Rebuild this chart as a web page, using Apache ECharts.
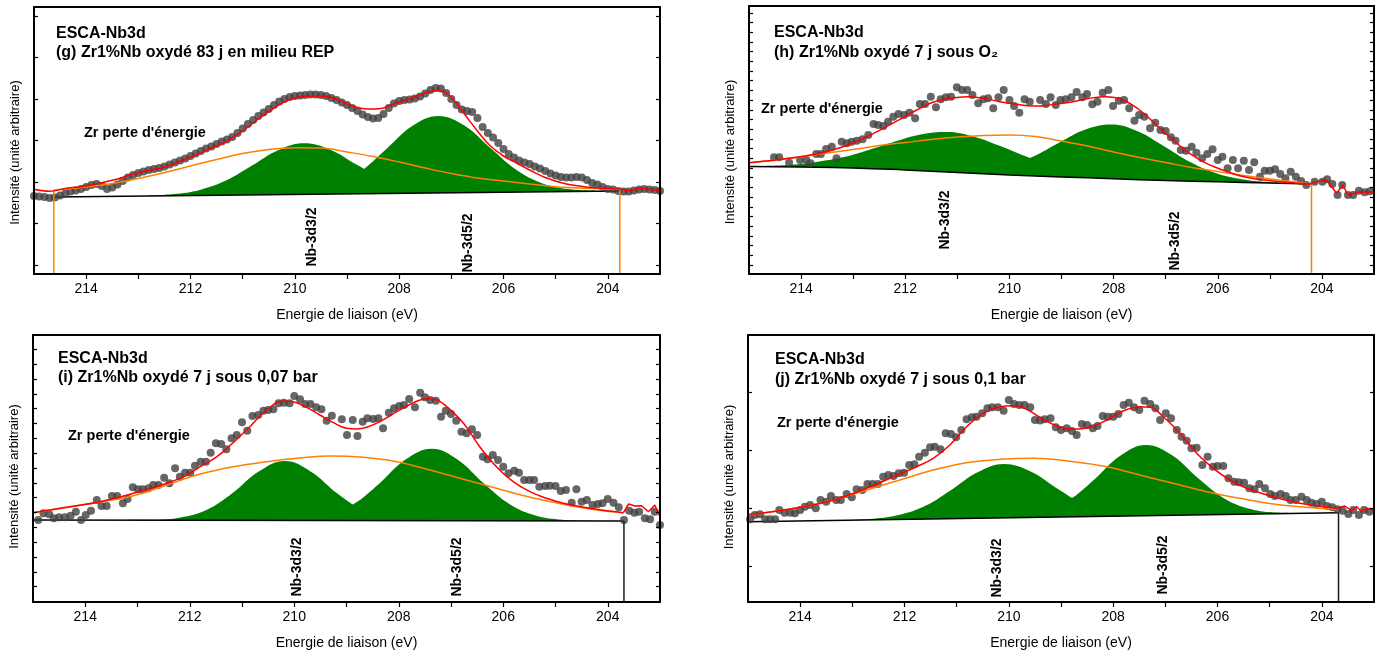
<!DOCTYPE html>
<html>
<head>
<meta charset="utf-8">
<script src="https://cdn.jsdelivr.net/npm/echarts@6/dist/echarts.min.js"></script>
<style>
  html, body { margin: 0; background: #fff; }
  #chart { width: 1383px; height: 657px; }
</style>
</head>
<body>
<div id="chart"></div>
<script>
// binding energy (eV), intensity in arbitrary units (0 = bottom of each frame)

// ---- (g) 83 j en milieu REP ----
const gPoints = [
  [215.0,78],[214.9,77.5],[214.8,77],[214.7,76],[214.6,76.5],[214.5,78.5],[214.4,80.5],[214.3,82.5],[214.2,83.5],[214.1,85],
  [214.0,87],[213.9,89],[213.8,90],[213.7,88],[213.6,85],[213.5,86.5],[213.4,89.5],[213.3,93],[213.2,96.5],[213.1,99],
  [213.0,101],[212.9,102.5],[212.8,104],[212.7,105],[212.6,106],[212.5,107.5],[212.4,109.5],[212.3,111.5],[212.2,113.5],[212.1,115.5],
  [212.0,118],[211.9,120.5],[211.8,123],[211.7,125.5],[211.6,127.5],[211.5,130],[211.4,132.5],[211.3,134.5],[211.2,137],[211.1,141],
  [211.0,145.5],[210.9,150],[210.8,154],[210.7,158],[210.6,161.5],[210.5,165],[210.4,169],[210.3,172.5],[210.2,175],[210.1,177],
  [210.0,178],[209.9,178.5],[209.8,179],[209.7,179.5],[209.6,179.5],[209.5,179],[209.4,178],[209.3,176],[209.2,174],[209.1,171.5],
  [209.0,169],[208.9,166],[208.8,163],[208.7,159.5],[208.6,157],[208.5,155.5],[208.4,156],[208.3,160],[208.2,166],[208.1,170.5],
  [208.0,173],[207.9,174],[207.8,174.5],[207.7,175.5],[207.6,177.5],[207.5,180.5],[207.4,184],[207.3,186],[207.2,185.5],[207.1,181],
  [207.0,175],[206.9,169],[206.8,164.5],[206.7,163],[206.6,162],[206.5,156],[206.4,147],[206.3,141],[206.2,136.5],[206.1,131],
  [206.0,125],[205.9,120],[205.8,116.5],[205.7,113.5],[205.6,111.5],[205.5,110],[205.4,107.5],[205.3,105.5],[205.2,103],[205.1,100.5],
  [205.0,98.5],[204.9,97],[204.8,96.5],[204.7,96.5],[204.6,97],[204.5,96.5],[204.4,94],[204.3,91],[204.2,89.5],[204.1,87],
  [204.0,85],[203.9,84.5],[203.8,83],[203.7,82.5],[203.6,82.5],[203.5,83.5],[203.4,84.5],[203.3,85],[203.2,84.5],[203.1,84],[203.0,83]
];
const gFit = [
  [215,84.7],[214.7,82.7],[214.4,85.5],[214,88],[213.7,91.3],[213.4,95],[213.1,100],[212.8,103.5],[212.5,107],[212.2,112.5],
  [211.9,119],[211.6,126],[211.3,133],[211.0,143],[210.7,155],[210.4,166],[210.1,174.5],[209.8,177.8],[209.5,178],[209.2,175],
  [208.9,168],[208.6,165],[208.35,165.5],[208.1,170],[207.8,175],[207.5,181],[207.25,183.5],[207.0,176.5],[206.75,160],[206.5,143],
  [206.25,128],[206,118],[205.75,111],[205.5,104],[205.2,96.5],[204.85,90.7],[204.46,87.3],[204.08,85.7],[203.8,85]
];
const gFitTail = [[203.8,85],[203.58,83.3],[203.39,85.7],[203.2,84.7],[203.0,83]];
const gLoss = [
  [214.62,84],[214,87],[213.5,90.5],[213,95.5],[212.5,101.5],[212,108],[211.5,114.5],[211,120.5],[210.5,124.5],[210,126.3],
  [209.5,126],[209,122],[208.5,117.5],[208,112],[207.5,106],[207,100.5],[206.5,96],[206,93],[205.5,90],[205,87.3],
  [204.5,85.8],[204,85],[203.77,84.7]
];
const gNb32 = [
  [212.82,78.3],[212.32,79.9],[211.82,84.1],[211.32,93.4],[210.82,108.4],[210.32,123.8],[209.82,130.7],
  [209.32,124.3],[208.82,109.5],[208.32,95.1],[207.82,86.4],[207.32,82.6],[206.82,81.7]
];
const gNb52 = [
  [210.25,79.9],[209.75,82.1],[209.25,88.4],[208.75,102.3],[208.25,124.8],[207.75,147.9],[207.25,158.1],
  [206.75,148.5],[206.25,125.9],[205.75,104],[205.25,90.6],[204.75,84.9],[204.25,83.3]
];
const gBase = [[214.62,77],[203.77,83]];
const gEdges = [[[214.62,0],[214.62,84]], [[203.77,0],[203.77,84.7]]];
const gTicks = [9, 50.5, 92, 133.5, 175, 216.5, 258];

// ---- (h) 7 j sous O2 ----
const hPoints = [
  [214.52,116.7],[214.42,116.7],[214.23,111.3],[214.02,114],[213.9,114],[213.82,110.7],[213.71,120],[213.62,120],[213.52,125],[213.41,127.3],
  [213.32,115.7],[213.22,132.3],[213.12,130.7],[213.03,132.3],[212.93,133.3],[212.82,134.7],[212.71,139],[212.61,150],[212.52,149],[212.42,148],
  [212.33,152.3],[212.23,157.3],[212.13,160],[212.02,159],[211.92,161.3],[211.81,155.7],[211.72,170],[211.62,170],[211.51,177.3],[211.41,166.7],
  [211.32,174.7],[211.22,176.7],[211.12,177.3],[211.01,186.7],[210.91,184],[210.81,184],[210.71,179],[210.6,170.7],[210.5,174.7],[210.41,175.7],
  [210.31,165.7],[210.21,176.7],[210.11,184],[210.0,174],[209.91,168],[209.81,161.3],[209.71,174.7],[209.61,172.3],[209.41,174],[209.3,170],
  [209.21,176.7],[209.11,169],[209.02,174],[208.92,174.7],[208.81,176.7],[208.71,182],[208.6,176.7],[208.51,180],[208.41,169.7],[208.31,172.3],
  [208.21,181.3],[208.1,184],[208.01,168],[207.9,173.3],[207.8,174],[207.7,165.7],[207.6,153.3],[207.51,159],[207.41,157.3],[207.3,145.7],
  [207.2,151.3],[207.1,144],[207.0,143],[206.9,136.7],[206.81,133.3],[206.71,124],[206.61,123.3],[206.5,127.3],[206.41,121.3],[206.3,115.7],
  [206.2,120],[206.1,124.7],[206.0,114],[205.91,117.3],[205.81,105.7],[205.71,114],[205.61,105.7],[205.5,113.3],[205.4,104],[205.3,111.7],
  [205.19,97.3],[205.1,103.3],[205.0,103.3],[204.9,104.7],[204.8,100],[204.7,95.7],[204.6,102.3],[204.5,97.3],[204.4,93],[204.3,89],
  [204.14,92.3],[203.99,92.3],[203.9,94.7],[203.8,90],[203.7,79],[203.61,89],[203.5,79],[203.4,79],[203.29,83.3],[203.18,81.7],[203.08,82.7]
];
const hFit = [
  [215,111.3],[214.5,114],[214.02,117.3],[213.7,120],[213.39,124],[213.05,130],[212.74,137.3],[212.42,145.7],[212.1,154.7],[211.78,164],
  [211.47,171.7],[211.14,175.7],[210.82,177.3],[210.5,175.7],[210.18,172.3],[209.86,169.7],[209.55,168],[209.3,168.5],[209.1,170],[208.78,172.3],
  [208.46,175.7],[208.13,177.3],[207.82,174],[207.5,164],[207.18,149],[206.86,134],[206.54,120.7],[206.22,110.7],[205.9,104],[205.58,98.3],
  [205.26,95],[204.94,93],[204.6,91.3],[204.23,90]
];
const hFitTail = [[204.23,90],[204.1,92.3],[203.91,94],[203.72,80.7],[203.6,89],[203.5,79],[203.27,82.3],[203.02,81.7]];
const hLoss = [
  [215,111.3],[214.5,114],[214,117],[213.5,121],[213,124.5],[212.5,128.5],[212,131.5],[211.5,134.5],[211,137],[210.5,138.5],
  [210,139],[209.5,137.5],[209,133],[208.5,128],[208,122],[207.5,116.5],[207,111.5],[206.5,106.5],[206,102.5],[205.5,98.5],
  [205,95],[204.5,92],[204.2,90]
];
const hNb32 = [
  [214.7,108.1],[214.2,109.3],[213.7,112.1],[213.2,116.7],[212.7,124.1],[212.2,132.5],[211.7,139.6],[211.2,142],
  [210.7,137.6],[210.2,128.5],[209.7,117.9],[209.2,108.5],[208.7,101.8],[208.2,97.8],[207.7,95.5]
];
const hNb52 = [
  [211.04,102.5],[210.54,103.5],[210.04,107.9],[209.54,117.5],[209.04,131.4],[208.54,144.4],[208.04,149.4],
  [207.54,142.7],[207.04,127.9],[206.54,112.2],[206.04,101],[205.54,94.8],[205.04,91.9],[204.54,90.7]
];
const hBase = [[215,107.5],[214,107],[213,106],[212,104],[211,101.5],[210,99],[209,97],[208,95.3],[207,93.5],[206,92.2],[205,91],[204.2,90]];
const hEdges = [[[204.2,0],[204.2,90]]];
const hTicks = [9,18.7,28.4,38.1,47.8,57.5,67.2,76.9,86.6,96.3,106,115.7,125.4,135.1,144.8,154.5,164.2,173.9,183.6,193.3,203,212.7,222.4,232.1,241.8,251.5,261.2];

// ---- (i) 7 j sous 0,07 bar ----
const iPoints = [
  [214.9,82],[214.8,88.7],[214.69,87.7],[214.6,83.7],[214.5,84.7],[214.39,84.7],[214.28,86.3],[214.18,90.3],[214.08,82],[213.99,87],
  [213.89,91.3],[213.78,102],[213.69,96],[213.59,96],[213.49,106],[213.39,106],[213.28,98.7],[213.19,103],[213.09,114.7],[212.99,112.7],
  [212.9,112.7],[212.79,113.7],[212.7,117],[212.6,117],[212.49,124.3],[212.39,118.7],[212.28,133.7],[212.19,125.3],[212.09,129.3],[211.99,129.3],
  [211.9,136.3],[211.79,140.3],[211.69,140.3],[211.6,149.3],[211.5,158.7],[211.4,158],[211.3,152.7],[211.2,163.7],[211.1,167],[211.0,179.7],
  [210.9,171.3],[210.8,186],[210.69,187],[210.59,191.3],[210.5,192],[210.4,192.7],[210.3,198.7],[210.2,199.3],[210.09,198.7],[210.0,206],
  [209.89,202.7],[209.79,198],[209.69,198],[209.58,194.7],[209.48,192.7],[209.38,181.3],[209.28,186.3],[209.09,182.7],[208.99,167],[208.88,182],
  [208.79,166],[208.69,180.3],[208.6,183.7],[208.49,183],[208.39,183.7],[208.3,173.7],[208.19,189.3],[208.09,193.7],[207.99,196],[207.9,197],
  [207.8,203],[207.69,194.7],[207.59,209.3],[207.5,204.7],[207.4,202],[207.29,201.3],[207.19,185.3],[207.1,191.3],[207.0,188],[206.9,181.3],
  [206.8,170.3],[206.7,168.7],[206.6,172.7],[206.5,167],[206.39,145.3],[206.3,142.7],[206.2,147],[206.1,142],[206.0,135.3],[205.9,128.7],
  [205.79,131.3],[205.7,129.3],[205.6,122],[205.5,122],[205.41,122],[205.31,115.3],[205.2,116],[205.11,116.3],[205.0,116],[204.9,111],
  [204.8,112],[204.69,99.3],[204.6,112.7],[204.5,100.3],[204.4,102],[204.29,97],[204.19,98],[204.1,98.7],[204.0,103],[203.89,99.3],
  [203.79,94.7],[203.69,82],[203.59,91.3],[203.49,89.3],[203.4,90.3],[203.29,83.7],[203.19,82.7],[203.1,90.3],[203.0,77]
];
const iFit = [
  [215,89.3],[214.36,94.7],[213.72,100.3],[213.08,108.7],[212.44,118.7],[212.12,125.3],[211.8,135.3],[211.48,145.3],[211.17,159.3],[210.85,175.3],
  [210.53,192],[210.21,201],[210.02,200.3],[209.76,194.7],[209.51,187],[209.25,179.3],[209.0,173.7],[208.8,173],[208.6,175],[208.36,180.3],
  [208.04,190.3],[207.72,199.3],[207.47,203.3],[207.27,202],[207.08,195.3],[206.76,178.7],[206.45,155.3],[206.13,135.3],[205.81,120.3],[205.49,110.3],
  [205.17,103.7],[204.85,98.7],[204.34,93.7],[203.7,89.3]
];
const iFitTail = [[203.7,89.3],[203.6,98],[203.48,96],[203.35,96.3],[203.22,90.3],[203.1,97],[203.0,85.3]];
const iLoss = [
  [215,89.3],[214.36,94.5],[213.72,100],[213.08,106.3],[212.44,117],[211.8,128],[211.17,135.3],[210.53,140.3],[209.89,144],[209.3,146],
  [208.68,144.7],[208.04,140.3],[207.4,132],[206.76,122.7],[206.13,113.7],[205.49,104.7],[204.85,97.7],[204.21,92],[203.7,89.3]
];
const iNb32 = [
  [213.18,82.1],[212.68,82.2],[212.18,84.4],[211.68,91.9],[211.18,108.9],[210.68,130.4],[210.18,140.9],
  [209.68,130.3],[209.18,108.7],[208.68,91.6],[208.18,84],[207.68,81.85]
];
const iNb52 = [
  [210.37,81.8],[209.87,82.7],[209.37,86.6],[208.87,97.7],[208.37,118.6],[207.87,142.4],[207.37,153.3],
  [206.87,142.3],[206.37,118.4],[205.87,97.5],[205.37,86.3],[204.87,82.3],[204.37,81.25]
];
const iBase = [[215,82],[203.69,81]];
const iEdges = [[[203.69,0],[203.69,81]]];
const iTicks = [15.3,30.1,45,59.8,74.6,89.5,104.3,119.1,133.9,148.8,163.6,178.4,193.3,208.1,222.9,237.8,252.6];

// ---- (j) 7 j sous 0,1 bar ----
const jPoints = [
  [214.96,82.7],[214.87,87],[214.77,87.7],[214.67,82.7],[214.58,82.7],[214.48,82.7],[214.4,92],[214.3,89.3],[214.19,89.3],[214.1,88.7],
  [214.0,92],[213.91,95.3],[213.81,97],[213.7,93.7],[213.61,102],[213.5,100.3],[213.41,106],[213.31,102],[213.22,102],[213.11,108],
  [213.01,104.7],[212.92,112.7],[212.81,112],[212.71,118],[212.61,118],[212.51,118],[212.41,125.3],[212.31,127],[212.21,126],[212.11,128.7],
  [212.01,129.3],[211.91,137],[211.81,137.7],[211.72,145.3],[211.61,149.3],[211.51,154.7],[211.42,155.3],[211.31,152.7],[211.21,168.7],[211.11,168],
  [211.01,164.7],[210.91,172],[210.81,182.7],[210.71,184.7],[210.62,185.3],[210.51,188.7],[210.41,193.7],[210.32,194.7],[210.21,194.7],[210.1,191.3],
  [210.0,202],[209.9,198],[209.8,197],[209.7,197],[209.59,194.7],[209.5,182],[209.4,181.5],[209.31,182.7],[209.2,183.7],[209.1,174.7],
  [209.0,172],[208.89,173.7],[208.79,171],[208.7,167],[208.6,178],[208.5,177],[208.39,173.7],[208.3,176],[208.2,186],[208.1,185.3],
  [208.0,185.3],[207.9,188],[207.8,197],[207.7,199.3],[207.6,194.7],[207.5,192],[207.4,201.3],[207.29,198],[207.19,193.7],[207.1,182],
  [206.99,188.7],[206.89,183.7],[206.78,172],[206.69,165.3],[206.59,161.3],[206.5,153.7],[206.4,154.3],[206.29,137],[206.19,145.3],[206.09,135.3],
  [206.0,136],[205.89,136],[205.79,123.7],[205.68,120.3],[205.59,119.7],[205.49,119.3],[205.39,113.7],[205.29,112.7],[205.2,118],[205.09,113.7],
  [204.99,108],[204.9,106],[204.79,108],[204.69,106],[204.6,102],[204.5,102],[204.39,105.3],[204.29,102],[204.2,99.3],[204.1,98],
  [204.0,100.3],[203.9,96],[203.8,94.7],[203.7,92.7],[203.6,91.3],[203.49,88],[203.4,92],[203.29,87],[203.19,92],[203.09,90.3]
];
const jFit = [
  [215,87.5],[214.5,90.5],[213.94,95.3],[213.36,102],[212.73,113.7],[212.09,128],[211.77,135.3],[211.45,143.7],[211.13,157],[210.81,175.3],
  [210.49,188.7],[210.17,195.3],[209.91,196.3],[209.66,192.7],[209.4,184.5],[209.08,176],[208.76,172.7],[208.44,174.7],[208.12,182],[207.8,191.3],
  [207.49,195.3],[207.29,194.7],[207.04,185.3],[206.72,168.7],[206.4,148.7],[206.08,133.7],[205.76,122],[205.44,113.7],[204.93,105.3],[204.42,98.7],
  [203.72,93.7]
];
const jFitTail = [[203.72,93.7],[203.56,96],[203.43,91.3],[203.33,95.3],[203.24,90.3],[203.14,93.7],[203.01,92]];
const jLoss = [
  [215,87],[213.94,95.3],[213.36,102],[212.73,112],[212.09,122],[211.45,132],[210.81,139.3],[210.17,142.7],[209.53,143.7],[208.76,140.3],
  [208.12,135.3],[207.49,127],[206.85,118.7],[206.21,110.3],[205.57,103.7],[204.93,98],[204.29,94.7],[203.72,92.7]
];
const jNb32 = [
  [213.09,82],[212.59,83.3],[212.09,87.2],[211.59,96.4],[211.09,112.5],[210.59,129.9],[210.09,138],
  [209.59,130.7],[209.09,114.1],[208.59,98.8],[208.09,90.4],[207.59,87.3],[207.09,86.8]
];
const jNb52 = [
  [210.37,84.2],[209.87,85.5],[209.37,89.8],[208.87,101.2],[208.37,122.1],[207.87,145.9],[207.37,157],
  [206.87,146.7],[206.37,123.7],[205.87,103.6],[205.37,93],[204.87,89.5],[204.37,89]
];
const jBase = [[215,80.3],[203.68,89.3]];
const jEdges = [[[203.68,0],[203.68,89.3]]];
const jTicks = [35.3, 93.3, 151.3, 209.3];

const xLabels = [204, 206, 208, 210, 212, 214];
const xTicks = [204, 205, 206, 207, 208, 209, 210, 211, 212, 213, 214];

const FONT = '"Liberation Sans", Arial, sans-serif';

const panels = [
  { grid: { left: 34, top: 7, width: 626, height: 267 }, ymax: 267, ticks: gTicks, namePad: 24,
    points: gPoints, fit: gFit, tail: gFitTail, loss: gLoss, peaks: [gNb32, gNb52], base: gBase, baseSmooth: false,
    edges: gEdges, edgeColor: '#ff8000',
    title: [56, 34, 53, '(g) Zr1%Nb oxydé 83 j en milieu REP'], zr: [84, 133], nb: [[312, 237], [468, 243]] },
  { grid: { left: 749, top: 6, width: 625, height: 268 }, ymax: 268, ticks: hTicks, namePad: 24,
    points: hPoints, fit: hFit, tail: hFitTail, loss: hLoss, peaks: [hNb32, hNb52], base: hBase, baseSmooth: true,
    edges: hEdges, edgeColor: '#ff8000',
    title: [774, 33, 53, '(h) Zr1%Nb oxydé 7 j sous O₂'], zr: [761, 109], nb: [[945, 220], [1175, 241]] },
  { grid: { left: 33, top: 335, width: 627, height: 267 }, ymax: 267, ticks: iTicks, namePad: 16,
    points: iPoints, fit: iFit, tail: iFitTail, loss: iLoss, peaks: [iNb32, iNb52], base: iBase, baseSmooth: false,
    edges: iEdges, edgeColor: '#1a1a1a',
    title: [58, 359, 378, '(i) Zr1%Nb oxydé 7 j sous 0,07 bar'], zr: [68, 436], nb: [[297, 567], [457, 567]] },
  { grid: { left: 748, top: 335, width: 626, height: 267 }, ymax: 267, ticks: jTicks, namePad: 17,
    points: jPoints, fit: jFit, tail: jFitTail, loss: jLoss, peaks: [jNb32, jNb52], base: jBase, baseSmooth: false,
    edges: jEdges, edgeColor: '#1a1a1a',
    title: [775, 360, 380, '(j) Zr1%Nb oxydé 7 j sous 0,1 bar'], zr: [777, 423], nb: [[997, 568], [1163, 565]] }
];

const axisLine = { show: true, onZero: false, lineStyle: { color: '#000', width: 2 } };

const grid = [], xAxis = [], yAxis = [], series = [], graphic = [];

panels.forEach((p, k) => {
  grid.push(Object.assign({ outerBoundsMode: 'none' }, p.grid));

  // bottom axis with labels, top axis closes the frame
  xAxis.push({
    gridIndex: k, type: 'value', min: 203, max: 215, inverse: true, z: 10,
    name: 'Energie de liaison (eV)', nameLocation: 'middle', nameGap: 34,
    nameTextStyle: { fontFamily: FONT, fontSize: 14, color: '#000' },
    axisLine,
    axisTick: { show: true, inside: false, length: 5, lineStyle: { color: '#000', width: 1.2 }, customValues: xTicks },
    axisLabel: { customValues: xLabels, margin: 8, fontFamily: FONT, fontSize: 14, color: '#000' },
    splitLine: { show: false }
  });
  xAxis.push({
    gridIndex: k, type: 'value', min: 203, max: 215, inverse: true, position: 'top', z: 10,
    axisLine, axisTick: { show: false }, axisLabel: { show: false }, splitLine: { show: false }
  });
});

panels.forEach((p, k) => {
  yAxis.push({
    gridIndex: k, type: 'value', min: 0, max: p.ymax, z: 10,
    name: 'Intensité (unité arbitraire)', nameLocation: 'middle', nameGap: 12,
    nameTextStyle: { fontFamily: FONT, fontSize: 13, color: '#000', padding: [0, p.namePad, 0, 0] },
    axisLine,
    axisTick: { show: true, inside: true, length: 4, lineStyle: { color: '#000', width: 1.2 }, customValues: p.ticks },
    axisLabel: { show: false, customValues: p.ticks },
    splitLine: { show: false }
  });
});
panels.forEach((p, k) => {
  yAxis.push({
    gridIndex: k, type: 'value', min: 0, max: p.ymax, position: 'right', z: 10,
    axisLine,
    axisTick: { show: true, inside: true, length: 4, lineStyle: { color: '#000', width: 1.2 }, customValues: p.ticks },
    axisLabel: { show: false, customValues: p.ticks },
    splitLine: { show: false }
  });
});

panels.forEach((p, k) => {
  const ax = { xAxisIndex: k * 2, yAxisIndex: k };
  p.peaks.forEach((pk) => {
    series.push(Object.assign({
      type: 'line', data: pk, smooth: 0.4, symbol: 'none', z: 2,
      lineStyle: { width: 0 },
      areaStyle: { color: '#008000', opacity: 1, origin: 'start' }
    }, ax));
  });
  // baseline; the white area hides the peak fill below it
  series.push(Object.assign({
    type: 'line', data: p.base, smooth: p.baseSmooth, symbol: 'none', z: 3,
    lineStyle: { color: '#000', width: 1.5 },
    areaStyle: { color: '#fff', opacity: 1, origin: 'start' }
  }, ax));
  series.push(Object.assign({
    type: 'scatter', data: p.points, symbol: 'circle', symbolSize: 8, z: 4,
    itemStyle: { color: '#404040' }
  }, ax));
  series.push(Object.assign({
    type: 'line', data: p.loss, smooth: 0.4, symbol: 'none', z: 5,
    lineStyle: { color: '#ff8000', width: 1.5 }
  }, ax));
  p.edges.forEach((e) => {
    series.push(Object.assign({
      type: 'line', data: e, symbol: 'none', z: 5,
      lineStyle: { color: p.edgeColor, width: 1.5 }
    }, ax));
  });
  series.push(Object.assign({
    type: 'line', data: p.fit, smooth: 0.4, symbol: 'none', z: 6,
    lineStyle: { color: '#ff0000', width: 1.5 }
  }, ax));
  series.push(Object.assign({
    type: 'line', data: p.tail, symbol: 'none', z: 6,
    lineStyle: { color: '#ff0000', width: 1.5 }
  }, ax));

  const [tx, ty1, ty2, sub] = p.title;
  graphic.push({ type: 'text', x: tx, y: ty1, z: 20,
    style: { text: 'ESCA-Nb3d', font: 'bold 16px ' + FONT, fill: '#000', verticalAlign: 'middle' } });
  graphic.push({ type: 'text', x: tx, y: ty2, z: 20,
    style: { text: sub, font: 'bold 16px ' + FONT, fill: '#000', verticalAlign: 'middle' } });
  graphic.push({ type: 'text', x: p.zr[0], y: p.zr[1], z: 20,
    style: { text: "Zr perte d'énergie", font: 'bold 14.5px ' + FONT, fill: '#000', verticalAlign: 'middle' } });
  ['Nb-3d3/2', 'Nb-3d5/2'].forEach((t, n) => {
    graphic.push({ type: 'text', x: p.nb[n][0], y: p.nb[n][1], rotation: Math.PI / 2, z: 20,
      style: { text: t, font: 'bold 14px ' + FONT, fill: '#000', align: 'center', verticalAlign: 'middle' } });
  });
});

const chart = echarts.init(document.getElementById('chart'));
chart.setOption({
  animation: false,
  backgroundColor: '#fff',
  grid, xAxis, yAxis, series, graphic
});
</script>
</body>
</html>
